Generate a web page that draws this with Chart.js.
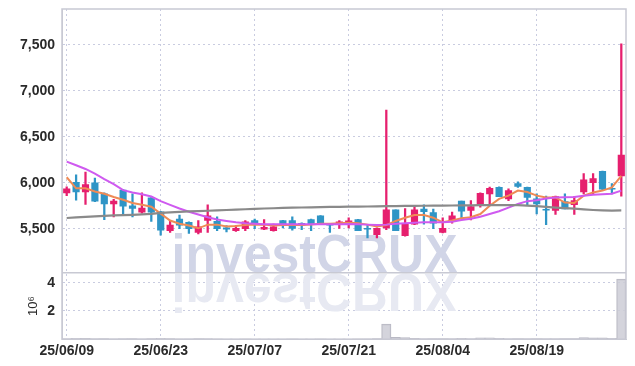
<!DOCTYPE html>
<html>
<head>
<meta charset="utf-8">
<script src="https://cdn.jsdelivr.net/npm/chart.js@4.4.1/dist/chart.umd.min.js"></script>
<style>
  html, body { margin: 0; padding: 0; background: #fff; }
</style>
</head>
<body>
<canvas id="chart" width="635" height="366"></canvas>
<script>
const dates = ['25/06/09','25/06/10','25/06/11','25/06/12','25/06/13','25/06/16','25/06/17','25/06/18','25/06/19','25/06/20',
  '25/06/23','25/06/24','25/06/25','25/06/26','25/06/27','25/06/30','25/07/01','25/07/02','25/07/03','25/07/04',
  '25/07/07','25/07/08','25/07/09','25/07/10','25/07/11','25/07/14','25/07/15','25/07/16','25/07/17','25/07/18',
  '25/07/21','25/07/22','25/07/23','25/07/24','25/07/25','25/07/28','25/07/29','25/07/30','25/07/31','25/08/01',
  '25/08/04','25/08/05','25/08/06','25/08/07','25/08/08','25/08/11','25/08/12','25/08/13','25/08/14','25/08/18',
  '25/08/19','25/08/20','25/08/21','25/08/22','25/08/25','25/08/26','25/08/27','25/08/28','25/08/29','25/09/01'];

const openP  = [5890,6005,5900,6000,5880,5770,5920,5750,5680,5835, 5685,5480,5605,5570,5460,5590,5580,5510,5480,5500,
                5590,5495,5480,5590,5590,5560,5600,5640,5552,5552, 5560,5600,5505,5435,5510,5705,5425,5550,5715,5675,
                5460,5580,5800,5700,5752,5880,5950,5825,5990,5950, 5825,5712,5700,5795,5763,5900,6000,6125,5940,6075];
const highP  = [5955,6085,6115,6050,5890,5820,5925,5880,5890,5840, 5690,5585,5650,5575,5590,5760,5630,5535,5535,5590,
                5605,5600,5550,5592,5630,5565,5605,5642,5555,5590, 5620,5602,5545,5510,6790,5707,5720,5735,5760,5715,
                5620,5680,5802,5805,5890,5952,5955,5935,6010,5952, 5880,5855,5855,5880,5850,6100,6100,6127,5990,7510];
const lowP   = [5860,5810,5765,5795,5600,5630,5660,5630,5670,5580, 5430,5460,5500,5450,5445,5460,5480,5465,5470,5480,
                5500,5490,5475,5510,5485,5490,5480,5550,5460,5505, 5510,5478,5400,5400,5490,5478,5420,5545,5550,5500,
                5455,5560,5615,5595,5735,5750,5850,5805,5950,5750, 5660,5545,5655,5715,5655,5880,5880,5925,5880,5855];
const closeP = [5935,5900,5980,5800,5770,5800,5745,5720,5725,5680, 5485,5540,5540,5500,5520,5640,5500,5495,5505,5575,
                5565,5515,5520,5535,5505,5540,5545,5550,5540,5575, 5585,5480,5495,5505,5705,5480,5560,5705,5685,5560,
                5505,5640,5690,5740,5886,5940,5850,5915,5960,5840, 5770,5702,5850,5716,5806,6033,6045,5930,5930,6300];
const volume = [45000,60000,70000,50000,40000,35000,45000,40000,35000,40000, 60000,40000,30000,35000,40000,50000,30000,25000,20000,30000,
                25000,25000,20000,25000,30000,20000,25000,30000,20000,25000, 25000,30000,35000,40000,1070000,130000,120000,70000,50000,40000,
                40000,50000,60000,50000,90000,90000,60000,50000,40000,50000, 40000,50000,50000,40000,40000,110000,100000,100000,60000,4260000];
const maShort = [6060,5940,5940,5905,5880,5845,5815,5780,5760,5740, 5665,5590,5555,5535,5505,5545,5545,5525,5530,5540,
                 5545,5545,5535,5540,5540,5540,5545,5555,5555,5560, 5565,5560,5545,5525,5540,5585,5620,5650,5650,5620,
                 5570,5590,5615,5625,5660,5750,5825,5860,5915,5900, 5860,5840,5840,5785,5780,5860,5895,5915,5950,6075];
const maMid   = [6230,6190,6150,6100,6040,5985,5920,5895,5875,5850, 5800,5760,5720,5685,5655,5625,5600,5585,5570,5560,
                 5555,5550,5550,5548,5548,5548,5548,5550,5550,5550, 5552,5550,5545,5540,5545,5555,5560,5565,5570,5570,
                 5570,5575,5595,5610,5630,5660,5690,5730,5770,5800, 5810,5830,5840,5842,5845,5860,5870,5875,5880,5915];
const maLong  = [5617,5623,5629,5634,5640,5645,5648,5652,5656,5662, 5672,5678,5683,5688,5692,5696,5700,5704,5708,5712,
                 5716,5720,5723,5726,5729,5731,5733,5735,5737,5738, 5740,5741,5742,5743,5745,5747,5748,5749,5750,5751,
                 5752,5753,5754,5755,5756,5757,5757,5757,5756,5752, 5745,5738,5730,5724,5718,5710,5704,5700,5698,5700];
const priceTicks = [5500, 6000, 6500, 7000, 7500];
const volTicks = [2000000, 4000000];

const UP = '#e61f6e', DOWN = '#2f95c6';
const candleColors = closeP.map((c, i) => c >= openP[i] ? UP : DOWN);
const tickFont = { family: "'Liberation Sans', Arial, sans-serif", size: 14, weight: 'bold' };
const textColor = '#2a2a2a';
const gridColor = '#c9cce0';
const frameColor = '#c8c9d3';

// watermark + frame round the two panes
const framePlugin = {
  id: 'frame',
  beforeDatasetsDraw(chart) {
    const { ctx } = chart;
    const bottom = chart.scales.price.bottom;
    const cx = chart.width / 2 - 3;
    ctx.save();
    ctx.font = "bold 53px 'Liberation Sans', Arial, sans-serif";
    ctx.textAlign = 'center';
    ctx.textBaseline = 'alphabetic';
    ctx.fillStyle = '#e7e9f2';
    ctx.save();
    ctx.translate(0, 2 * bottom + 2);
    ctx.scale(1, -1);
    ctx.fillText('investCRUX', cx, bottom + 1, 286);
    ctx.restore();
    ctx.fillStyle = '#d1d5e7';
    ctx.fillText('investCRUX', cx, bottom - 1, 286);
    ctx.restore();
  },
  afterDraw(chart) {
    const { ctx, chartArea } = chart;
    ctx.save();
    ctx.strokeStyle = frameColor;
    ctx.lineWidth = 1.5;
    ctx.strokeRect(chartArea.left, chartArea.top, chartArea.right - chartArea.left, chartArea.bottom - chartArea.top);
    const y = chart.scales.price.bottom;
    ctx.beginPath();
    ctx.moveTo(chartArea.left, y);
    ctx.lineTo(chartArea.right, y);
    ctx.stroke();
    ctx.restore();
  }
};

const fitLeft = s => { s.width = 62; s.paddingTop = 0; s.paddingBottom = 0; };

new Chart(document.getElementById('chart'), {
  type: 'bar',
  data: {
    labels: dates,
    datasets: [
      { type: 'line', data: maLong, yAxisID: 'price', borderColor: '#8a8a8a', borderWidth: 2.2, pointRadius: 0, order: 0 },
      { type: 'line', data: maMid, yAxisID: 'price', borderColor: '#cf5af0', borderWidth: 2, pointRadius: 0, order: 0 },
      { type: 'line', data: maShort, yAxisID: 'price', borderColor: '#ef8a55', borderWidth: 2, pointRadius: 0, order: 0 },
      { data: openP.map((o, i) => [o, closeP[i]]), yAxisID: 'price', backgroundColor: candleColors,
        barThickness: 6.5, grouped: false, order: 1 },
      { data: lowP.map((l, i) => [l, highP[i]]), yAxisID: 'price', backgroundColor: candleColors,
        barThickness: 1.6, grouped: false, order: 2 },
      { data: volume, yAxisID: 'vol', backgroundColor: 'rgba(205,205,214,0.85)', borderColor: '#b9b9c4',
        borderWidth: 1, barPercentage: 1, categoryPercentage: 1, grouped: false, order: 3 }
    ]
  },
  options: {
    responsive: false,
    animation: false,
    layout: { padding: { left: 0, top: 9, right: 9, bottom: 2 } },
    plugins: { legend: { display: false }, tooltip: { enabled: false } },
    scales: {
      x: {
        offset: true,
        grid: { offset: false, color: gridColor, drawTicks: false },
        border: { color: frameColor, dash: [2, 3] },
        ticks: {
          font: tickFont, color: textColor, maxRotation: 0, autoSkip: false, padding: 4,
          callback: (v, i) => i % 10 === 0 ? dates[i] : null
        }
      },
      vol: {
        position: 'left', stack: 'panes', stackWeight: 66,
        min: 0, max: 4710000,
        grid: { color: gridColor, drawTicks: false },
        border: { color: frameColor, dash: [2, 3] },
        title: { display: true, text: '10⁶', color: textColor, font: { family: tickFont.family, size: 13 }, padding: { top: 26, bottom: 0 } },
        afterBuildTicks: s => { s.ticks = volTicks.map(v => ({ value: v })); },
        ticks: { font: tickFont, color: textColor, padding: 7, callback: v => v / 1000000 },
        afterFit: fitLeft
      },
      price: {
        position: 'left', stack: 'panes', stackWeight: 262,
        min: 5022, max: 7888,
        grid: { color: gridColor, drawTicks: false },
        border: { color: frameColor, dash: [2, 3] },
        afterBuildTicks: s => { s.ticks = priceTicks.map(v => ({ value: v })); },
        ticks: { font: tickFont, color: textColor, padding: 7, callback: v => v.toLocaleString('en-US') },
        afterFit: fitLeft
      }
    }
  },
  plugins: [framePlugin]
});
</script>
</body>
</html>
